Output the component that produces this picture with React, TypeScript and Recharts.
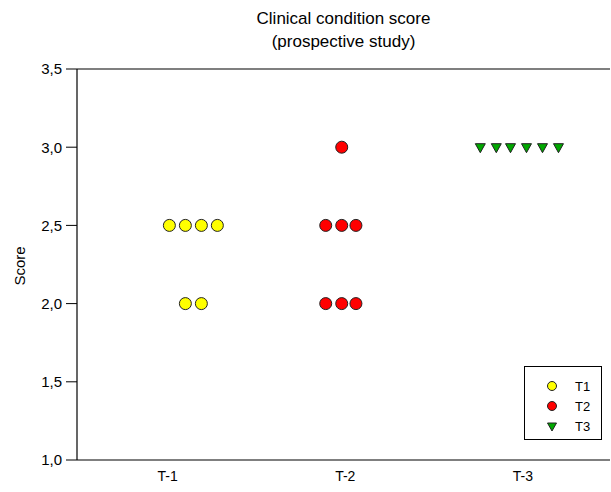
import React from 'react';
import { ScatterChart, Scatter, XAxis, YAxis, ReferenceLine } from 'recharts';

const categories = ['T-1', 'T-2', 'T-3'];
const yTicks = [1.0, 1.5, 2.0, 2.5, 3.0, 3.5];

// jittered positions inside each group
const t1X = [1.01, 1.1, 1.19, 1.28, 1.1, 1.19];
const t1Y = [2.5, 2.5, 2.5, 2.5, 2.0, 2.0];
const t2X = [1.98, 1.89, 1.98, 2.06, 1.89, 1.98, 2.06];
const t2Y = [3.0, 2.5, 2.5, 2.5, 2.0, 2.0, 2.0];
const t3X = [2.76, 2.85, 2.93, 3.02, 3.11, 3.2];
const t3Y = [3.0, 3.0, 3.0, 3.0, 3.0, 3.0];

const toPoints = (xs: number[], ys: number[]) => xs.map((x, i) => ({ x, y: ys[i] }));

const font = '"Liberation Sans", Arial, sans-serif';

const Circle = (color: string) => (props: any) => (
  <circle cx={props.cx} cy={props.cy} r={6} fill={color} stroke="#222" strokeWidth={1} />
);

const Triangle = (color: string) => (props: any) => {
  const { cx, cy } = props;
  return (
    <polygon
      points={`${cx - 5},${cy - 3.5} ${cx + 5},${cy - 3.5} ${cx},${cy + 5.5}`}
      fill={color}
      stroke="#222"
      strokeWidth={1}
    />
  );
};

const series = [
  { name: 'T1', color: '#ffff00', data: toPoints(t1X, t1Y), shape: 'circle' },
  { name: 'T2', color: '#ff0000', data: toPoints(t2X, t2Y), shape: 'circle' },
  { name: 'T3', color: '#00a800', data: toPoints(t3X, t3Y), shape: 'triangle' },
];

export default function App() {
  return (
    <div style={{ position: 'absolute', left: 0, top: 0, width: 611, height: 492, background: '#fff', fontFamily: font }}>
      <div style={{ position: 'absolute', left: 77, width: 533, top: 7, textAlign: 'center', fontSize: 17, lineHeight: '23px', color: '#000' }}>
        Clinical condition score
        <br />
        (prospective study)
      </div>
      <div
        style={{
          position: 'absolute',
          left: 19,
          top: 266,
          transform: 'translate(-50%, -50%) rotate(-90deg)',
          fontSize: 15,
          color: '#000',
        }}
      >
        Score
      </div>
      <ScatterChart width={611} height={492} margin={{ top: 69, right: 1, bottom: 0, left: 0 }}>
        <XAxis
          type="number"
          dataKey="x"
          domain={[0.49, 3.49]}
          ticks={[1, 2, 3]}
          tickFormatter={(v: number) => categories[Math.round(v) - 1]}
          tickLine={false}
          axisLine={{ stroke: '#000', strokeWidth: 1.2 }}
          tick={{ fill: '#000', fontSize: 14, fontFamily: font, dy: 3 }}
          height={32}
          allowDataOverflow
        />
        <YAxis
          type="number"
          dataKey="y"
          domain={[1, 3.5]}
          ticks={yTicks}
          tickFormatter={(v: number) => v.toFixed(1).replace('.', ',')}
          width={77}
          tickSize={11}
          tickMargin={4}
          tickLine={{ stroke: '#000' }}
          axisLine={{ stroke: '#000', strokeWidth: 1.2 }}
          tick={{ fill: '#000', fontSize: 15, fontFamily: font }}
          allowDataOverflow
        />
        <ReferenceLine y={3.5} stroke="#000" strokeWidth={1.2} ifOverflow="visible" />
        {series.map((s) => (
          <Scatter
            key={s.name}
            name={s.name}
            data={s.data}
            fill={s.color}
            shape={s.shape === 'circle' ? Circle(s.color) : Triangle(s.color)}
            isAnimationActive={false}
          />
        ))}
      </ScatterChart>
      <div
        style={{
          position: 'absolute',
          left: 524,
          top: 366,
          width: 78,
          height: 74,
          border: '1px solid #000',
          boxSizing: 'border-box',
          background: '#fff',
        }}
      >
        <svg width={78} height={74} style={{ position: 'absolute', left: 0, top: 0 }}>
          {series.map((s, i) => {
            const cy = 19 + i * 20;
            const cx = 27;
            return (
              <g key={s.name}>
                {s.shape === 'circle' ? (
                  <circle cx={cx} cy={cy} r={4.5} fill={s.color} stroke="#222" strokeWidth={1} />
                ) : (
                  <polygon points={`${cx - 4.5},${cy - 3} ${cx + 4.5},${cy - 3} ${cx},${cy + 5}`} fill={s.color} stroke="#222" strokeWidth={1} />
                )}
                <text x={50} y={cy + 5} fontSize={13} fontFamily={font} fill="#000">
                  {s.name}
                </text>
              </g>
            );
          })}
        </svg>
      </div>
    </div>
  );
}
